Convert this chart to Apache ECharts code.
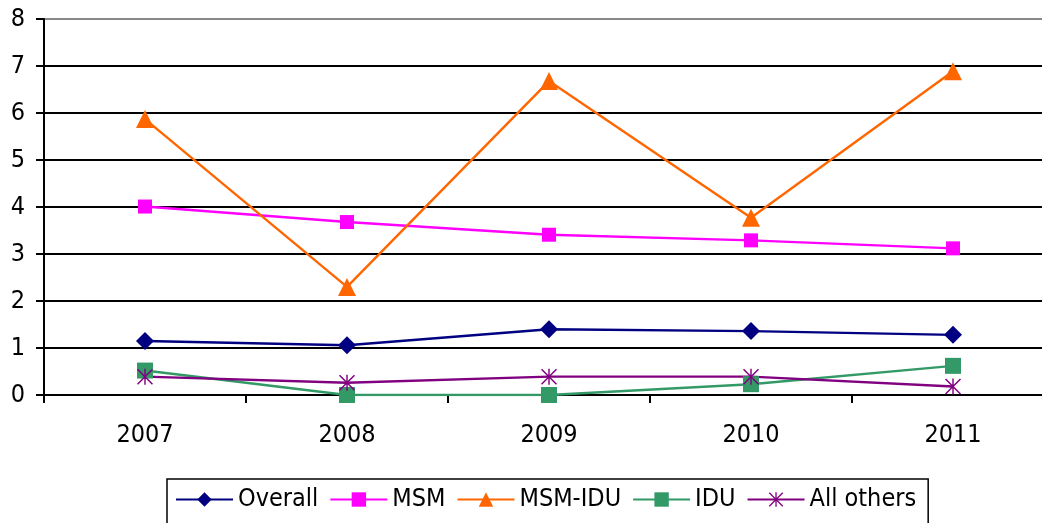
<!DOCTYPE html>
<html>
<head>
<meta charset="utf-8">
<script src="https://cdn.jsdelivr.net/npm/echarts@6/dist/echarts.min.js"></script>
<style>
html, body { margin: 0; padding: 0; background: #fff; overflow: hidden; }
/* 原图右侧被裁切，画布比窗口宽一点 */
#chart { width: 1054px; height: 523px; }
</style>
</head>
<body>
<div id="chart"></div>
<script>
// 年份
var years = ['2007', '2008', '2009', '2010', '2011'];
// 各组数据
var overall = [1.15, 1.06, 1.40, 1.36, 1.28];
var msm = [4.01, 3.68, 3.41, 3.29, 3.12];
var msmIdu = [5.87, 2.30, 6.68, 3.77, 6.89];
var idu = [0.52, 0.0, 0.0, 0.23, 0.62];
var allOthers = [0.39, 0.26, 0.39, 0.39, 0.18];
var yTicks = [0, 1, 2, 3, 4, 5, 6, 7, 8];

// 星号标记
var asterisk = 'path://M9.1,0H10.9V20H9.1Z M0,1.3L1.3,0L20,18.7L18.7,20Z M18.7,0L20,1.3L1.3,20L0,18.7Z';

var font = 'DejaVu Sans Condensed, DejaVu Sans';
var myChart = echarts.init(document.getElementById('chart'));

function line(name, data, color, symbol, size) {
    return {
        name: name,
        type: 'line',
        data: data,
        symbol: symbol,
        symbolSize: size,
        showSymbol: true,
        lineStyle: { color: color, width: 2.4 },
        itemStyle: { color: color },
        emphasis: { disabled: true },
        animation: false
    };
}

var option = {
    backgroundColor: '#fff',
    grid: { left: 44, top: 19, right: 0, bottom: 128, containLabel: false },
    legend: {
        left: 167,
        top: 479,
        padding: [8, 12, 30, 8],
        itemGap: 11,
        itemWidth: 57,
        itemHeight: 18,
        borderColor: '#000',
        borderWidth: 1.5,
        textStyle: { fontFamily: font, fontSize: 25, color: '#000' },
        data: ['Overall', 'MSM', 'MSM-IDU', 'IDU', 'All others']
    },
    xAxis: {
        type: 'category',
        data: years,
        boundaryGap: true,
        axisLine: { lineStyle: { color: '#000', width: 2 } },
        axisTick: { show: true, interval: 0, length: 8, alignWithLabel: false, lineStyle: { color: '#000', width: 2 } },
        axisLabel: { fontFamily: font, fontSize: 25, color: '#000', margin: 28 }
    },
    yAxis: {
        type: 'value',
        min: yTicks[0],
        max: yTicks[yTicks.length - 1],
        interval: 1,
        axisLine: { show: true, lineStyle: { color: '#000', width: 2 } },
        axisTick: { show: true, length: 8, lineStyle: { color: '#000', width: 2 } },
        axisLabel: { fontFamily: font, fontSize: 25, color: '#000', margin: 19 },
        splitLine: {
            show: true,
            lineStyle: { color: ['#000', '#000', '#000', '#000', '#000', '#000', '#000', '#000', '#888'], width: 2 }
        }
    },
    series: [
        line('Overall', overall, '#000080', 'diamond', 18),
        line('MSM', msm, '#FF00FF', 'rect', 14),
        line('MSM-IDU', msmIdu, '#FF6600', 'triangle', 18),
        line('IDU', idu, '#339966', 'rect', 16),
        line('All others', allOthers, '#800080', asterisk, 16)
    ]
};
myChart.setOption(option);
</script>
</body>
</html>
